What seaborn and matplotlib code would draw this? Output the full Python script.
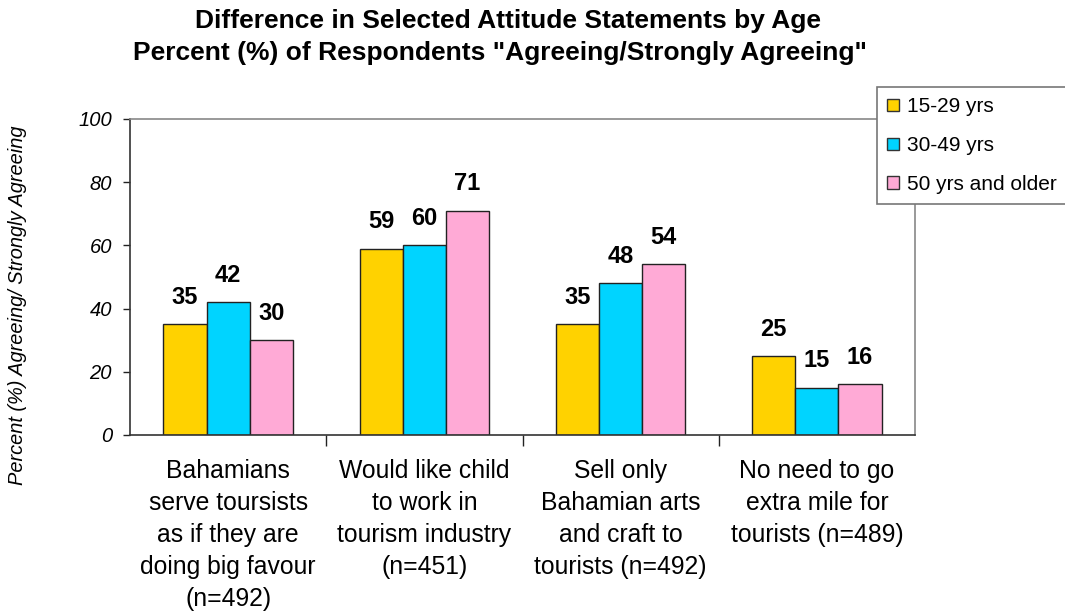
import matplotlib
matplotlib.use("Agg")
import matplotlib.pyplot as plt
import seaborn as sns
import pandas as pd
from matplotlib.patches import Patch

# Attitude statements and shares agreeing by age group
statements = [
    "Bahamians\nserve toursists\nas if they are\ndoing big favour\n(n=492)",
    "Would like child\nto work in\ntourism industry\n(n=451)",
    "Sell only\nBahamian arts\nand craft to\ntourists (n=492)",
    "No need to go\nextra mile for\ntourists (n=489)",
]
age_groups = ["15-29 yrs", "30-49 yrs", "50 yrs and older"]
pct_15_29 = [35, 59, 35, 25]
pct_30_49 = [42, 60, 48, 15]
pct_50_plus = [30, 71, 54, 16]
colors = ["#FFD200", "#00D4FF", "#FFAAD6"]
y_ticks = [0, 20, 40, 60, 80, 100]

df = pd.DataFrame({
    "statement": statements * 3,
    "age": [g for g in age_groups for _ in statements],
    "pct": pct_15_29 + pct_30_49 + pct_50_plus,
})

sns.set_theme(style="white")
plt.rcParams["font.family"] = ["Liberation Sans", "DejaVu Sans"]

fig = plt.figure(figsize=(10.65, 6.11), dpi=100)
ax = fig.add_axes([130 / 1065, 1 - 435 / 611, 785 / 1065, 316 / 611])

sns.barplot(data=df, x="statement", y="pct", hue="age", order=statements,
            hue_order=age_groups, palette=colors, width=0.66, gap=0,
            edgecolor="#222222", linewidth=1.0, saturation=1, ax=ax,
            legend=False)

for cont in ax.containers:
    for bar in cont:
        h = bar.get_height()
        ax.annotate(f"{h:.0f}", (bar.get_x() + bar.get_width() / 2, h),
                    xytext=(0, 11), textcoords="offset points",
                    ha="center", va="bottom", fontsize=17, fontweight="bold",
                    color="black")

ax.set_xlim(-0.5, 3.5)
ax.set_ylim(0, 100)
ax.set_yticks(y_ticks)
ax.set_yticklabels([str(v) for v in y_ticks], fontsize=14.5, fontstyle="italic")
ax.set_xticks(range(len(statements)))
ax.set_xticklabels(statements, fontsize=17.8, linespacing=1.42, va="top",
                   color="black")
ax.set_xticks([0.5, 1.5, 2.5], minor=True)
ax.tick_params(axis="x", which="major", length=0, pad=17)
ax.tick_params(axis="x", which="minor", length=8, width=1, color="#222222",
               direction="out", bottom=True)
ax.tick_params(axis="y", length=5, width=1, color="#222222",
               direction="out", left=True, pad=8, labelcolor="black")
ax.set_xlabel("")
ax.set_ylabel("")

for side in ("left", "bottom"):
    ax.spines[side].set_color("#333333")
    ax.spines[side].set_linewidth(1.2)
for side in ("top", "right"):
    ax.spines[side].set_color("#888888")
    ax.spines[side].set_linewidth(1.2)

fig.text(18 / 1065, 1 - 305 / 611, "Percent (%) Agreeing/ Strongly Agreeing",
         rotation=90, ha="center", va="center", fontsize=14.4,
         fontstyle="italic", color="black")

fig.text(0.477, 1 - 21 / 611,
         "Difference in Selected Attitude Statements by Age",
         ha="center", va="center", fontsize=19, fontweight="bold",
         color="black")
fig.text(0.469, 1 - 53 / 611,
         "Percent (%) of Respondents \"Agreeing/Strongly Agreeing\"",
         ha="center", va="center", fontsize=19, fontweight="bold",
         color="black")

handles = [Patch(facecolor=c, edgecolor="#333333", linewidth=1.0, label=g)
           for c, g in zip(colors, age_groups)]
leg = fig.legend(handles=handles, loc="upper left",
                 bbox_to_anchor=(877 / 1065, 1 - 87 / 611), fontsize=15,
                 frameon=True, fancybox=False, framealpha=1,
                 edgecolor="#777777", handlelength=0.55, handleheight=0.55,
                 handletextpad=0.4, labelspacing=0.95, borderpad=0.5,
                 borderaxespad=0)
leg.get_frame().set_linewidth(1.2)
for t in leg.get_texts():
    t.set_color("black")

fig.savefig("out.png", dpi=100)
